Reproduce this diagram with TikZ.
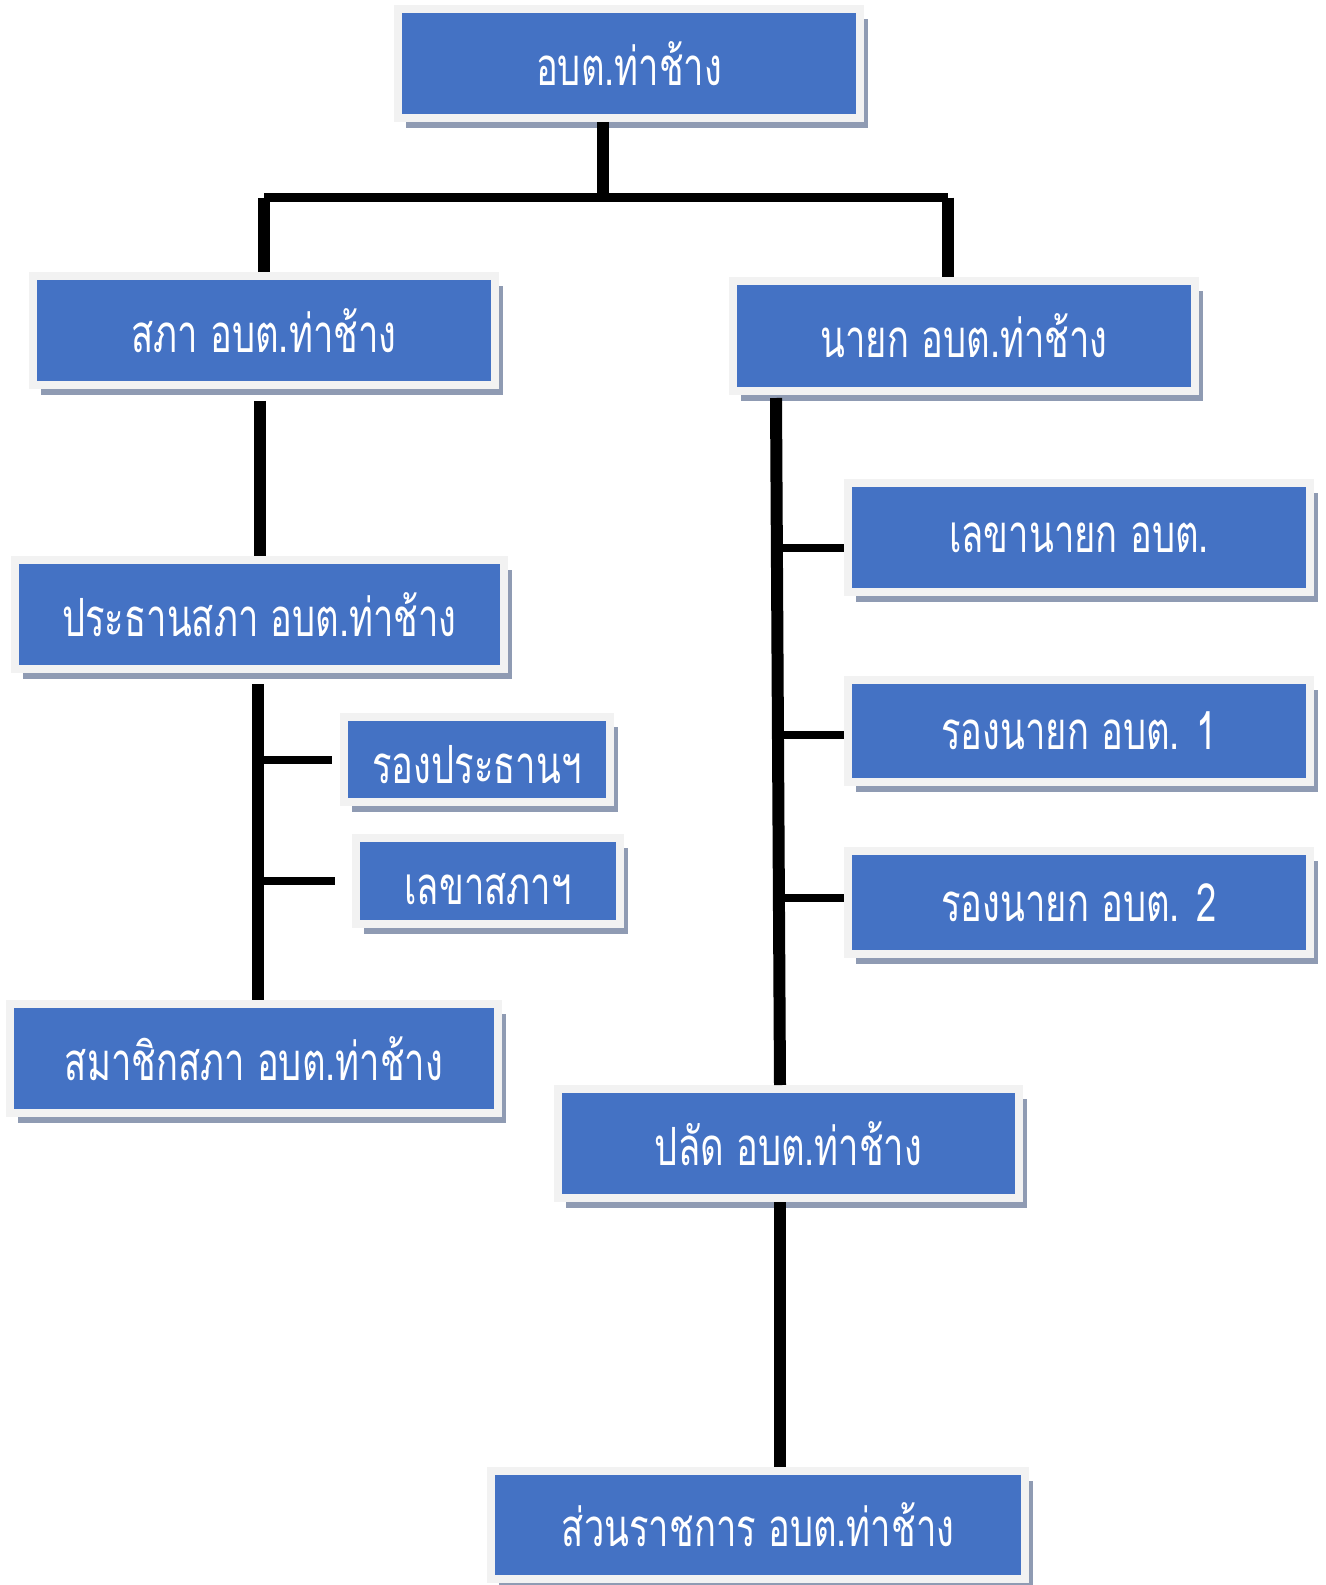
\documentclass[tikz,border=0pt]{standalone}
\usepackage{fontspec}
\newfontfamily\thaifont[Script=Thai,FakeStretch=0.69]{Loma}
\usetikzlibrary{shadows}
\definecolor{boxblue}{HTML}{4472C4}
\definecolor{framegray}{HTML}{F2F2F2}
\definecolor{shadowgray}{HTML}{8F9BB3}

\begin{document}
\begin{tikzpicture}[x=0.02cm, y=-0.02cm,
  orgbox/.style={draw=framegray, line width=0.16cm, fill=boxblue, text=white,
    font=\thaifont\fontsize{30}{36}\selectfont,
    drop shadow={shadow xshift=0.16cm, shadow yshift=-0.2cm, fill=shadowgray, opacity=1},
    minimum width=9.24cm, minimum height=2.18cm},
  lowtext/.style={text height=0.95cm, text depth=0cm},
  link/.style={line width=0.24cm},
  bar/.style={line width=0.18cm},
  branch/.style={line width=0.16cm}]
\useasboundingbox (0,0) rectangle (1325,1585);

\node[orgbox] (top) at (629,63.5) {อบต.ท่าช้าง};
\node[orgbox] (sapha) at (264,330.5) {สภา อบต.ท่าช้าง};
\node[orgbox, minimum height=2.2cm] (nayok) at (964,336) {นายก อบต.ท่าช้าง};
\node[orgbox, minimum width=9.78cm] (prathan) at (259.5,614.5) {ประธานสภา อบต.ท่าช้าง};
\node[orgbox, lowtext, minimum width=5.32cm, minimum height=1.7cm] (rongprathan) at (477,759.5) {รองประธานฯ};
\node[orgbox, lowtext, minimum width=5.28cm, minimum height=1.72cm] (lekhasapha) at (488,881) {เลขาสภาฯ};
\node[orgbox, minimum width=9.76cm] (samachik) at (254,1058.5) {สมาชิกสภา อบต.ท่าช้าง};
\node[orgbox] (lekhanayok) at (1079,537.5) {เลขานายก อบต.};
\node[orgbox, minimum height=2.04cm] (rongnayok1) at (1079,731) {รองนายก อบต. 1};
\node[orgbox, minimum height=2.06cm] (rongnayok2) at (1079,902.5) {รองนายก อบต. 2};
\node[orgbox, minimum width=9.22cm] (palat) at (788.5,1143.5) {ปลัด อบต.ท่าช้าง};
\node[orgbox, minimum width=10.68cm, minimum height=2.16cm] (suan) at (758,1525) {ส่วนราชการ อบต.ท่าช้าง};

\coordinate (jtop) at (603,197.5);
\coordinate (jl) at (264,197.5);
\coordinate (jr) at (947.5,197.5);
\coordinate (ltrunk) at (258,684);
\coordinate (rtop) at (776,398);
\coordinate (rbot) at (780,1085);
\coordinate (blek) at ([yshift=-0.21cm]lekhanayok.west);
\coordinate (brong1) at ([yshift=-0.08cm]rongnayok1.west);
\coordinate (brong2) at ([yshift=0.09cm]rongnayok2.west);

\draw[link] (top.south -| jtop) -- (jtop);
\draw[bar] (jl) -- (jr);
\draw[link] (jl) -- (sapha.north);
\draw[link] (jr) -- (nayok.north -| jr);
\draw[link, shorten <=0.24cm] (prathan.north |- sapha.south) -- (prathan.north);
\draw[link] (ltrunk) -- (ltrunk |- samachik.north);
\draw[branch, shorten >=0.16cm] (ltrunk |- rongprathan.west) -- (rongprathan.west);
\draw[branch, shorten >=0.34cm] (ltrunk |- lekhasapha.west) -- (lekhasapha.west);
\draw[link] (rtop) -- (rbot);
\draw[branch] (rtop |- blek) -- (blek);
\draw[branch] (rtop |- brong1) -- (brong1);
\draw[branch] (rtop |- brong2) -- (brong2);
\draw[link] (rbot |- palat.south) -- (rbot |- suan.north);
\end{tikzpicture}
\end{document}
